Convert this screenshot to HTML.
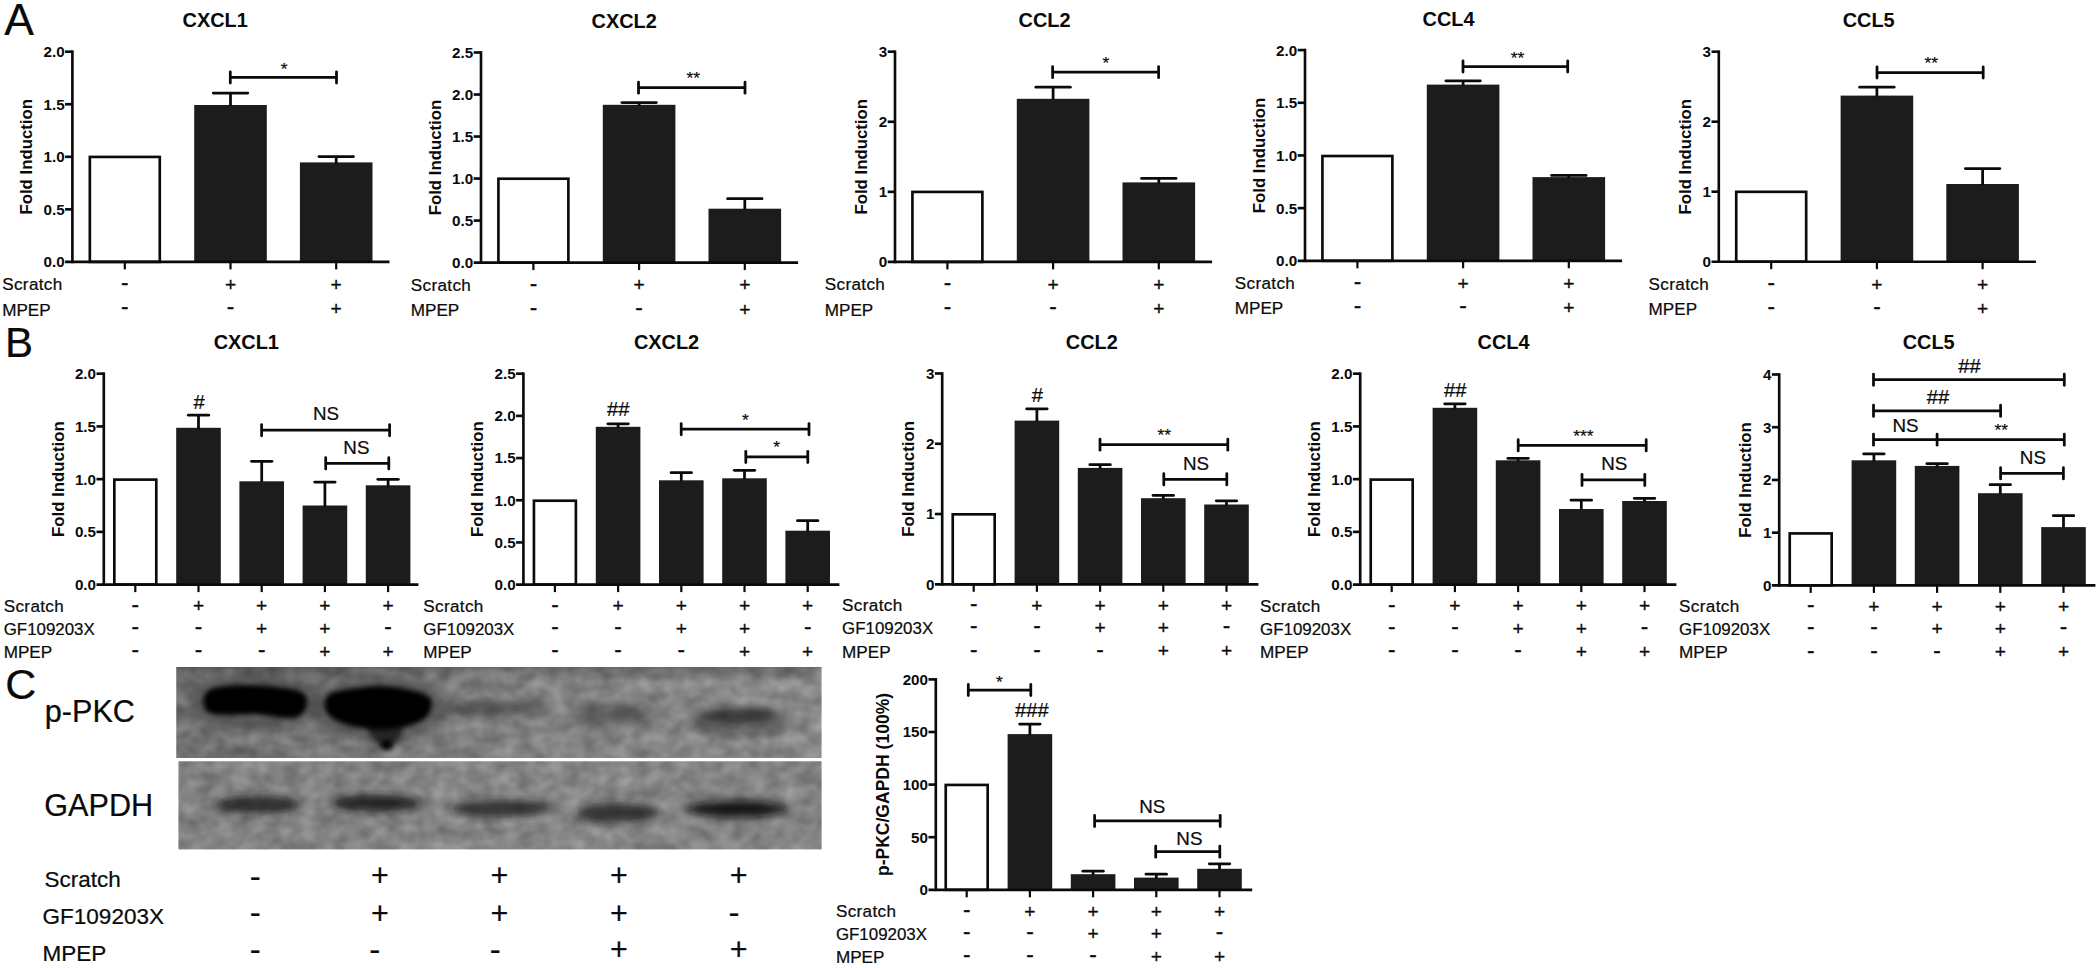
<!DOCTYPE html>
<html lang="en"><head><meta charset="utf-8"><title>Figure</title>
<style>html,body{margin:0;padding:0;background:#fff}body{width:2100px;height:968px;overflow:hidden}svg{display:block}text{font-family:"Liberation Sans",sans-serif;fill:#0a0a0a}</style>
</head><body>
<svg width="2100" height="968" viewBox="0 0 2100 968">
<rect width="2100" height="968" fill="#fff"/>
<defs>
<filter id="b1" x="-20%" y="-60%" width="140%" height="220%"><feGaussianBlur stdDeviation="2.6"/></filter>
<filter id="b2" x="-20%" y="-80%" width="140%" height="260%"><feGaussianBlur stdDeviation="4.3"/></filter>
<filter id="b3" x="-20%" y="-80%" width="140%" height="260%"><feGaussianBlur stdDeviation="5"/></filter>
<linearGradient id="g1" x1="0" x2="1" y1="0" y2="0"><stop offset="0" stop-color="#6e6e6e"/><stop offset="0.4" stop-color="#808080"/><stop offset="1" stop-color="#8e8e8e"/></linearGradient>
<linearGradient id="g2" x1="0" x2="1" y1="0" y2="0"><stop offset="0" stop-color="#828282"/><stop offset="0.6" stop-color="#8a8a8a"/><stop offset="1" stop-color="#868686"/></linearGradient>
<linearGradient id="gt" x1="0" x2="0" y1="0" y2="1"><stop offset="0" stop-color="#000" stop-opacity="0.28"/><stop offset="0.16" stop-color="#000" stop-opacity="0"/><stop offset="1" stop-color="#000" stop-opacity="0"/></linearGradient>
<filter id="nz" x="0" y="0" width="100%" height="100%" color-interpolation-filters="sRGB"><feTurbulence type="fractalNoise" baseFrequency="0.06 0.075" numOctaves="2" seed="11"/><feColorMatrix type="matrix" values="1.3 0 0 0 -0.16  1.3 0 0 0 -0.16  1.3 0 0 0 -0.16  0 0 0 0 0.21"/><feGaussianBlur stdDeviation="1.0"/></filter>
<clipPath id="c1"><rect x="176.3" y="667" width="645.2" height="91"/></clipPath>
<clipPath id="c2"><rect x="178.5" y="761.3" width="643" height="88"/></clipPath>
</defs>
<text x="4.3" y="35" font-size="44.5" text-anchor="start" stroke="#0a0a0a" stroke-width="0.22">A</text>
<text x="5" y="357" font-size="42" text-anchor="start" stroke="#0a0a0a" stroke-width="0.22">B</text>
<text x="5.3" y="699" font-size="43" text-anchor="start" stroke="#0a0a0a" stroke-width="0.22">C</text>
<rect x="89.83" y="156.92" width="69.95" height="104.97" fill="#fff" stroke="#0a0a0a" stroke-width="2.65"/>
<rect x="194.2" y="105" width="72.6" height="156.9" fill="#1c1c1c"/>
<line x1="230.5" y1="93" x2="230.5" y2="106" stroke="#0a0a0a" stroke-width="2.75" stroke-linecap="butt"/>
<line x1="213.25" y1="93" x2="247.75" y2="93" stroke="#0a0a0a" stroke-width="2.75" stroke-linecap="round"/>
<rect x="299.9" y="162.4" width="72.6" height="99.5" fill="#1c1c1c"/>
<line x1="336.2" y1="156.6" x2="336.2" y2="163.4" stroke="#0a0a0a" stroke-width="2.75" stroke-linecap="butt"/>
<line x1="318.95" y1="156.6" x2="353.45" y2="156.6" stroke="#0a0a0a" stroke-width="2.75" stroke-linecap="round"/>
<line x1="72.4" y1="50.38" x2="72.4" y2="263.22" stroke="#0a0a0a" stroke-width="2.65" stroke-linecap="butt"/>
<line x1="65.1" y1="261.9" x2="389.5" y2="261.9" stroke="#0a0a0a" stroke-width="2.65" stroke-linecap="butt"/>
<text x="64.6" y="267.3" font-size="15.2" font-weight="bold" text-anchor="end">0.0</text>
<line x1="65.1" y1="209.35" x2="72.4" y2="209.35" stroke="#0a0a0a" stroke-width="2.65" stroke-linecap="butt"/>
<text x="64.6" y="214.75" font-size="15.2" font-weight="bold" text-anchor="end">0.5</text>
<line x1="65.1" y1="156.8" x2="72.4" y2="156.8" stroke="#0a0a0a" stroke-width="2.65" stroke-linecap="butt"/>
<text x="64.6" y="162.2" font-size="15.2" font-weight="bold" text-anchor="end">1.0</text>
<line x1="65.1" y1="104.25" x2="72.4" y2="104.25" stroke="#0a0a0a" stroke-width="2.65" stroke-linecap="butt"/>
<text x="64.6" y="109.65" font-size="15.2" font-weight="bold" text-anchor="end">1.5</text>
<line x1="65.1" y1="51.7" x2="72.4" y2="51.7" stroke="#0a0a0a" stroke-width="2.65" stroke-linecap="butt"/>
<text x="64.6" y="57.1" font-size="15.2" font-weight="bold" text-anchor="end">2.0</text>
<line x1="124.8" y1="261.9" x2="124.8" y2="269.4" stroke="#0a0a0a" stroke-width="2.2" stroke-linecap="butt"/>
<line x1="230.5" y1="261.9" x2="230.5" y2="269.4" stroke="#0a0a0a" stroke-width="2.2" stroke-linecap="butt"/>
<line x1="336.2" y1="261.9" x2="336.2" y2="269.4" stroke="#0a0a0a" stroke-width="2.2" stroke-linecap="butt"/>
<text transform="translate(32.3 156.8) rotate(-90)" font-size="16.8" font-weight="bold" text-anchor="middle">Fold Induction</text>
<text x="215.2" y="27" font-size="19.9" font-weight="bold" text-anchor="middle">CXCL1</text>
<line x1="230.3" y1="77.4" x2="336.5" y2="77.4" stroke="#0a0a0a" stroke-width="2.75" stroke-linecap="butt"/>
<line x1="230.3" y1="71.8" x2="230.3" y2="83" stroke="#0a0a0a" stroke-width="2.75" stroke-linecap="round"/>
<line x1="336.5" y1="71.8" x2="336.5" y2="83" stroke="#0a0a0a" stroke-width="2.75" stroke-linecap="round"/>
<text x="284.2" y="74.9" font-size="17.4" text-anchor="middle" stroke="#0a0a0a" stroke-width="0.22">*</text>
<text x="2.2" y="290" font-size="17.1" text-anchor="start" letter-spacing="0.35" stroke="#0a0a0a" stroke-width="0.22">Scratch</text>
<text x="2.2" y="315.5" font-size="17.1" text-anchor="start" stroke="#0a0a0a" stroke-width="0.22">MPEP</text>
<text x="124.8" y="289.95" font-size="22.5" text-anchor="middle" stroke="#0a0a0a" stroke-width="0.3">-</text>
<text x="230.5" y="290.79" font-size="19.2" text-anchor="middle" stroke="#0a0a0a" stroke-width="0.3">+</text>
<text x="336.2" y="290.79" font-size="19.2" text-anchor="middle" stroke="#0a0a0a" stroke-width="0.3">+</text>
<text x="124.8" y="314.15" font-size="22.5" text-anchor="middle" stroke="#0a0a0a" stroke-width="0.3">-</text>
<text x="230.5" y="314.15" font-size="22.5" text-anchor="middle" stroke="#0a0a0a" stroke-width="0.3">-</text>
<text x="336.2" y="314.99" font-size="19.2" text-anchor="middle" stroke="#0a0a0a" stroke-width="0.3">+</text>
<rect x="498.42" y="178.72" width="69.95" height="83.88" fill="#fff" stroke="#0a0a0a" stroke-width="2.65"/>
<rect x="602.8" y="104.8" width="72.6" height="157.8" fill="#1c1c1c"/>
<line x1="639.1" y1="102.6" x2="639.1" y2="105.8" stroke="#0a0a0a" stroke-width="2.75" stroke-linecap="butt"/>
<line x1="621.85" y1="102.6" x2="656.35" y2="102.6" stroke="#0a0a0a" stroke-width="2.75" stroke-linecap="round"/>
<rect x="708.5" y="208.7" width="72.6" height="53.9" fill="#1c1c1c"/>
<line x1="744.8" y1="198.7" x2="744.8" y2="209.7" stroke="#0a0a0a" stroke-width="2.75" stroke-linecap="butt"/>
<line x1="727.55" y1="198.7" x2="762.05" y2="198.7" stroke="#0a0a0a" stroke-width="2.75" stroke-linecap="round"/>
<line x1="481" y1="51.17" x2="481" y2="263.93" stroke="#0a0a0a" stroke-width="2.65" stroke-linecap="butt"/>
<line x1="473.7" y1="262.6" x2="798.1" y2="262.6" stroke="#0a0a0a" stroke-width="2.65" stroke-linecap="butt"/>
<text x="473.2" y="268" font-size="15.2" font-weight="bold" text-anchor="end">0.0</text>
<line x1="473.7" y1="220.58" x2="481" y2="220.58" stroke="#0a0a0a" stroke-width="2.65" stroke-linecap="butt"/>
<text x="473.2" y="225.98" font-size="15.2" font-weight="bold" text-anchor="end">0.5</text>
<line x1="473.7" y1="178.56" x2="481" y2="178.56" stroke="#0a0a0a" stroke-width="2.65" stroke-linecap="butt"/>
<text x="473.2" y="183.96" font-size="15.2" font-weight="bold" text-anchor="end">1.0</text>
<line x1="473.7" y1="136.54" x2="481" y2="136.54" stroke="#0a0a0a" stroke-width="2.65" stroke-linecap="butt"/>
<text x="473.2" y="141.94" font-size="15.2" font-weight="bold" text-anchor="end">1.5</text>
<line x1="473.7" y1="94.52" x2="481" y2="94.52" stroke="#0a0a0a" stroke-width="2.65" stroke-linecap="butt"/>
<text x="473.2" y="99.92" font-size="15.2" font-weight="bold" text-anchor="end">2.0</text>
<line x1="473.7" y1="52.5" x2="481" y2="52.5" stroke="#0a0a0a" stroke-width="2.65" stroke-linecap="butt"/>
<text x="473.2" y="57.9" font-size="15.2" font-weight="bold" text-anchor="end">2.5</text>
<line x1="533.4" y1="262.6" x2="533.4" y2="270.1" stroke="#0a0a0a" stroke-width="2.2" stroke-linecap="butt"/>
<line x1="639.1" y1="262.6" x2="639.1" y2="270.1" stroke="#0a0a0a" stroke-width="2.2" stroke-linecap="butt"/>
<line x1="744.8" y1="262.6" x2="744.8" y2="270.1" stroke="#0a0a0a" stroke-width="2.2" stroke-linecap="butt"/>
<text transform="translate(440.9 157.55) rotate(-90)" font-size="16.8" font-weight="bold" text-anchor="middle">Fold Induction</text>
<text x="624.2" y="27.6" font-size="19.9" font-weight="bold" text-anchor="middle">CXCL2</text>
<line x1="638.5" y1="87.6" x2="745" y2="87.6" stroke="#0a0a0a" stroke-width="2.75" stroke-linecap="butt"/>
<line x1="638.5" y1="82" x2="638.5" y2="93.2" stroke="#0a0a0a" stroke-width="2.75" stroke-linecap="round"/>
<line x1="745" y1="82" x2="745" y2="93.2" stroke="#0a0a0a" stroke-width="2.75" stroke-linecap="round"/>
<text x="693.2" y="83.9" font-size="17.4" text-anchor="middle" stroke="#0a0a0a" stroke-width="0.22">**</text>
<text x="410.8" y="290.7" font-size="17.1" text-anchor="start" letter-spacing="0.35" stroke="#0a0a0a" stroke-width="0.22">Scratch</text>
<text x="410.8" y="316.2" font-size="17.1" text-anchor="start" stroke="#0a0a0a" stroke-width="0.22">MPEP</text>
<text x="533.4" y="290.65" font-size="22.5" text-anchor="middle" stroke="#0a0a0a" stroke-width="0.3">-</text>
<text x="639.1" y="291.49" font-size="19.2" text-anchor="middle" stroke="#0a0a0a" stroke-width="0.3">+</text>
<text x="744.8" y="291.49" font-size="19.2" text-anchor="middle" stroke="#0a0a0a" stroke-width="0.3">+</text>
<text x="533.4" y="314.85" font-size="22.5" text-anchor="middle" stroke="#0a0a0a" stroke-width="0.3">-</text>
<text x="639.1" y="314.85" font-size="22.5" text-anchor="middle" stroke="#0a0a0a" stroke-width="0.3">-</text>
<text x="744.8" y="315.69" font-size="19.2" text-anchor="middle" stroke="#0a0a0a" stroke-width="0.3">+</text>
<rect x="912.43" y="191.92" width="69.95" height="69.97" fill="#fff" stroke="#0a0a0a" stroke-width="2.65"/>
<rect x="1016.8" y="98.8" width="72.6" height="163.1" fill="#1c1c1c"/>
<line x1="1053.1" y1="87.2" x2="1053.1" y2="99.8" stroke="#0a0a0a" stroke-width="2.75" stroke-linecap="butt"/>
<line x1="1035.85" y1="87.2" x2="1070.35" y2="87.2" stroke="#0a0a0a" stroke-width="2.75" stroke-linecap="round"/>
<rect x="1122.5" y="182.4" width="72.6" height="79.5" fill="#1c1c1c"/>
<line x1="1158.8" y1="178.4" x2="1158.8" y2="183.4" stroke="#0a0a0a" stroke-width="2.75" stroke-linecap="butt"/>
<line x1="1141.55" y1="178.4" x2="1176.05" y2="178.4" stroke="#0a0a0a" stroke-width="2.75" stroke-linecap="round"/>
<line x1="895" y1="50.38" x2="895" y2="263.22" stroke="#0a0a0a" stroke-width="2.65" stroke-linecap="butt"/>
<line x1="887.7" y1="261.9" x2="1212.1" y2="261.9" stroke="#0a0a0a" stroke-width="2.65" stroke-linecap="butt"/>
<text x="887.2" y="267.3" font-size="15.2" font-weight="bold" text-anchor="end">0</text>
<line x1="887.7" y1="191.83" x2="895" y2="191.83" stroke="#0a0a0a" stroke-width="2.65" stroke-linecap="butt"/>
<text x="887.2" y="197.23" font-size="15.2" font-weight="bold" text-anchor="end">1</text>
<line x1="887.7" y1="121.77" x2="895" y2="121.77" stroke="#0a0a0a" stroke-width="2.65" stroke-linecap="butt"/>
<text x="887.2" y="127.17" font-size="15.2" font-weight="bold" text-anchor="end">2</text>
<line x1="887.7" y1="51.7" x2="895" y2="51.7" stroke="#0a0a0a" stroke-width="2.65" stroke-linecap="butt"/>
<text x="887.2" y="57.1" font-size="15.2" font-weight="bold" text-anchor="end">3</text>
<line x1="947.4" y1="261.9" x2="947.4" y2="269.4" stroke="#0a0a0a" stroke-width="2.2" stroke-linecap="butt"/>
<line x1="1053.1" y1="261.9" x2="1053.1" y2="269.4" stroke="#0a0a0a" stroke-width="2.2" stroke-linecap="butt"/>
<line x1="1158.8" y1="261.9" x2="1158.8" y2="269.4" stroke="#0a0a0a" stroke-width="2.2" stroke-linecap="butt"/>
<text transform="translate(867 156.8) rotate(-90)" font-size="16.8" font-weight="bold" text-anchor="middle">Fold Induction</text>
<text x="1044.5" y="27.2" font-size="19.9" font-weight="bold" text-anchor="middle">CCL2</text>
<line x1="1052.6" y1="72.1" x2="1158.6" y2="72.1" stroke="#0a0a0a" stroke-width="2.75" stroke-linecap="butt"/>
<line x1="1052.6" y1="66.5" x2="1052.6" y2="77.7" stroke="#0a0a0a" stroke-width="2.75" stroke-linecap="round"/>
<line x1="1158.6" y1="66.5" x2="1158.6" y2="77.7" stroke="#0a0a0a" stroke-width="2.75" stroke-linecap="round"/>
<text x="1106" y="69.4" font-size="17.4" text-anchor="middle" stroke="#0a0a0a" stroke-width="0.22">*</text>
<text x="824.8" y="290" font-size="17.1" text-anchor="start" letter-spacing="0.35" stroke="#0a0a0a" stroke-width="0.22">Scratch</text>
<text x="824.8" y="315.5" font-size="17.1" text-anchor="start" stroke="#0a0a0a" stroke-width="0.22">MPEP</text>
<text x="947.4" y="289.95" font-size="22.5" text-anchor="middle" stroke="#0a0a0a" stroke-width="0.3">-</text>
<text x="1053.1" y="290.79" font-size="19.2" text-anchor="middle" stroke="#0a0a0a" stroke-width="0.3">+</text>
<text x="1158.8" y="290.79" font-size="19.2" text-anchor="middle" stroke="#0a0a0a" stroke-width="0.3">+</text>
<text x="947.4" y="314.15" font-size="22.5" text-anchor="middle" stroke="#0a0a0a" stroke-width="0.3">-</text>
<text x="1053.1" y="314.15" font-size="22.5" text-anchor="middle" stroke="#0a0a0a" stroke-width="0.3">-</text>
<text x="1158.8" y="314.99" font-size="19.2" text-anchor="middle" stroke="#0a0a0a" stroke-width="0.3">+</text>
<rect x="1322.43" y="156.02" width="69.95" height="104.78" fill="#fff" stroke="#0a0a0a" stroke-width="2.65"/>
<rect x="1426.8" y="84.6" width="72.6" height="176.2" fill="#1c1c1c"/>
<line x1="1463.1" y1="80.8" x2="1463.1" y2="85.6" stroke="#0a0a0a" stroke-width="2.75" stroke-linecap="butt"/>
<line x1="1445.85" y1="80.8" x2="1480.35" y2="80.8" stroke="#0a0a0a" stroke-width="2.75" stroke-linecap="round"/>
<rect x="1532.5" y="177.1" width="72.6" height="83.7" fill="#1c1c1c"/>
<line x1="1568.8" y1="175.4" x2="1568.8" y2="178.1" stroke="#0a0a0a" stroke-width="2.75" stroke-linecap="butt"/>
<line x1="1551.55" y1="175.4" x2="1586.05" y2="175.4" stroke="#0a0a0a" stroke-width="2.75" stroke-linecap="round"/>
<line x1="1305" y1="48.77" x2="1305" y2="262.12" stroke="#0a0a0a" stroke-width="2.65" stroke-linecap="butt"/>
<line x1="1297.7" y1="260.8" x2="1622.1" y2="260.8" stroke="#0a0a0a" stroke-width="2.65" stroke-linecap="butt"/>
<text x="1297.2" y="266.2" font-size="15.2" font-weight="bold" text-anchor="end">0.0</text>
<line x1="1297.7" y1="208.12" x2="1305" y2="208.12" stroke="#0a0a0a" stroke-width="2.65" stroke-linecap="butt"/>
<text x="1297.2" y="213.53" font-size="15.2" font-weight="bold" text-anchor="end">0.5</text>
<line x1="1297.7" y1="155.45" x2="1305" y2="155.45" stroke="#0a0a0a" stroke-width="2.65" stroke-linecap="butt"/>
<text x="1297.2" y="160.85" font-size="15.2" font-weight="bold" text-anchor="end">1.0</text>
<line x1="1297.7" y1="102.78" x2="1305" y2="102.78" stroke="#0a0a0a" stroke-width="2.65" stroke-linecap="butt"/>
<text x="1297.2" y="108.18" font-size="15.2" font-weight="bold" text-anchor="end">1.5</text>
<line x1="1297.7" y1="50.1" x2="1305" y2="50.1" stroke="#0a0a0a" stroke-width="2.65" stroke-linecap="butt"/>
<text x="1297.2" y="55.5" font-size="15.2" font-weight="bold" text-anchor="end">2.0</text>
<line x1="1357.4" y1="260.8" x2="1357.4" y2="268.3" stroke="#0a0a0a" stroke-width="2.2" stroke-linecap="butt"/>
<line x1="1463.1" y1="260.8" x2="1463.1" y2="268.3" stroke="#0a0a0a" stroke-width="2.2" stroke-linecap="butt"/>
<line x1="1568.8" y1="260.8" x2="1568.8" y2="268.3" stroke="#0a0a0a" stroke-width="2.2" stroke-linecap="butt"/>
<text transform="translate(1264.9 155.45) rotate(-90)" font-size="16.8" font-weight="bold" text-anchor="middle">Fold Induction</text>
<text x="1448.5" y="25.8" font-size="19.9" font-weight="bold" text-anchor="middle">CCL4</text>
<line x1="1463" y1="66.5" x2="1567.7" y2="66.5" stroke="#0a0a0a" stroke-width="2.75" stroke-linecap="butt"/>
<line x1="1463" y1="60.9" x2="1463" y2="72.1" stroke="#0a0a0a" stroke-width="2.75" stroke-linecap="round"/>
<line x1="1567.7" y1="60.9" x2="1567.7" y2="72.1" stroke="#0a0a0a" stroke-width="2.75" stroke-linecap="round"/>
<text x="1517.6" y="63.9" font-size="17.4" text-anchor="middle" stroke="#0a0a0a" stroke-width="0.22">**</text>
<text x="1234.8" y="288.9" font-size="17.1" text-anchor="start" letter-spacing="0.35" stroke="#0a0a0a" stroke-width="0.22">Scratch</text>
<text x="1234.8" y="314.4" font-size="17.1" text-anchor="start" stroke="#0a0a0a" stroke-width="0.22">MPEP</text>
<text x="1357.4" y="288.85" font-size="22.5" text-anchor="middle" stroke="#0a0a0a" stroke-width="0.3">-</text>
<text x="1463.1" y="289.69" font-size="19.2" text-anchor="middle" stroke="#0a0a0a" stroke-width="0.3">+</text>
<text x="1568.8" y="289.69" font-size="19.2" text-anchor="middle" stroke="#0a0a0a" stroke-width="0.3">+</text>
<text x="1357.4" y="313.05" font-size="22.5" text-anchor="middle" stroke="#0a0a0a" stroke-width="0.3">-</text>
<text x="1463.1" y="313.05" font-size="22.5" text-anchor="middle" stroke="#0a0a0a" stroke-width="0.3">-</text>
<text x="1568.8" y="313.89" font-size="19.2" text-anchor="middle" stroke="#0a0a0a" stroke-width="0.3">+</text>
<rect x="1736.23" y="191.82" width="69.95" height="69.87" fill="#fff" stroke="#0a0a0a" stroke-width="2.65"/>
<rect x="1840.6" y="95.6" width="72.6" height="166.1" fill="#1c1c1c"/>
<line x1="1876.9" y1="87.2" x2="1876.9" y2="96.6" stroke="#0a0a0a" stroke-width="2.75" stroke-linecap="butt"/>
<line x1="1859.65" y1="87.2" x2="1894.15" y2="87.2" stroke="#0a0a0a" stroke-width="2.75" stroke-linecap="round"/>
<rect x="1946.3" y="184" width="72.6" height="77.7" fill="#1c1c1c"/>
<line x1="1982.6" y1="168.5" x2="1982.6" y2="185" stroke="#0a0a0a" stroke-width="2.75" stroke-linecap="butt"/>
<line x1="1965.35" y1="168.5" x2="1999.85" y2="168.5" stroke="#0a0a0a" stroke-width="2.75" stroke-linecap="round"/>
<line x1="1718.8" y1="50.38" x2="1718.8" y2="263.02" stroke="#0a0a0a" stroke-width="2.65" stroke-linecap="butt"/>
<line x1="1711.5" y1="261.7" x2="2035.9" y2="261.7" stroke="#0a0a0a" stroke-width="2.65" stroke-linecap="butt"/>
<text x="1711" y="267.1" font-size="15.2" font-weight="bold" text-anchor="end">0</text>
<line x1="1711.5" y1="191.7" x2="1718.8" y2="191.7" stroke="#0a0a0a" stroke-width="2.65" stroke-linecap="butt"/>
<text x="1711" y="197.1" font-size="15.2" font-weight="bold" text-anchor="end">1</text>
<line x1="1711.5" y1="121.7" x2="1718.8" y2="121.7" stroke="#0a0a0a" stroke-width="2.65" stroke-linecap="butt"/>
<text x="1711" y="127.1" font-size="15.2" font-weight="bold" text-anchor="end">2</text>
<line x1="1711.5" y1="51.7" x2="1718.8" y2="51.7" stroke="#0a0a0a" stroke-width="2.65" stroke-linecap="butt"/>
<text x="1711" y="57.1" font-size="15.2" font-weight="bold" text-anchor="end">3</text>
<line x1="1771.2" y1="261.7" x2="1771.2" y2="269.2" stroke="#0a0a0a" stroke-width="2.2" stroke-linecap="butt"/>
<line x1="1876.9" y1="261.7" x2="1876.9" y2="269.2" stroke="#0a0a0a" stroke-width="2.2" stroke-linecap="butt"/>
<line x1="1982.6" y1="261.7" x2="1982.6" y2="269.2" stroke="#0a0a0a" stroke-width="2.2" stroke-linecap="butt"/>
<text transform="translate(1690.8 156.7) rotate(-90)" font-size="16.8" font-weight="bold" text-anchor="middle">Fold Induction</text>
<text x="1868.7" y="26.8" font-size="19.9" font-weight="bold" text-anchor="middle">CCL5</text>
<line x1="1877" y1="72.5" x2="1983.2" y2="72.5" stroke="#0a0a0a" stroke-width="2.75" stroke-linecap="butt"/>
<line x1="1877" y1="66.9" x2="1877" y2="78.1" stroke="#0a0a0a" stroke-width="2.75" stroke-linecap="round"/>
<line x1="1983.2" y1="66.9" x2="1983.2" y2="78.1" stroke="#0a0a0a" stroke-width="2.75" stroke-linecap="round"/>
<text x="1931.2" y="69.2" font-size="17.4" text-anchor="middle" stroke="#0a0a0a" stroke-width="0.22">**</text>
<text x="1648.6" y="289.8" font-size="17.1" text-anchor="start" letter-spacing="0.35" stroke="#0a0a0a" stroke-width="0.22">Scratch</text>
<text x="1648.6" y="315.3" font-size="17.1" text-anchor="start" stroke="#0a0a0a" stroke-width="0.22">MPEP</text>
<text x="1771.2" y="289.75" font-size="22.5" text-anchor="middle" stroke="#0a0a0a" stroke-width="0.3">-</text>
<text x="1876.9" y="290.59" font-size="19.2" text-anchor="middle" stroke="#0a0a0a" stroke-width="0.3">+</text>
<text x="1982.6" y="290.59" font-size="19.2" text-anchor="middle" stroke="#0a0a0a" stroke-width="0.3">+</text>
<text x="1771.2" y="313.95" font-size="22.5" text-anchor="middle" stroke="#0a0a0a" stroke-width="0.3">-</text>
<text x="1876.9" y="313.95" font-size="22.5" text-anchor="middle" stroke="#0a0a0a" stroke-width="0.3">-</text>
<text x="1982.6" y="314.79" font-size="19.2" text-anchor="middle" stroke="#0a0a0a" stroke-width="0.3">+</text>
<rect x="114.33" y="479.62" width="41.95" height="104.98" fill="#fff" stroke="#0a0a0a" stroke-width="2.65"/>
<rect x="176.2" y="427.8" width="44.6" height="156.8" fill="#1c1c1c"/>
<line x1="198.5" y1="415.2" x2="198.5" y2="428.8" stroke="#0a0a0a" stroke-width="2.75" stroke-linecap="butt"/>
<line x1="188.25" y1="415.2" x2="208.75" y2="415.2" stroke="#0a0a0a" stroke-width="2.75" stroke-linecap="round"/>
<rect x="239.4" y="481.3" width="44.6" height="103.3" fill="#1c1c1c"/>
<line x1="261.7" y1="461.3" x2="261.7" y2="482.3" stroke="#0a0a0a" stroke-width="2.75" stroke-linecap="butt"/>
<line x1="251.45" y1="461.3" x2="271.95" y2="461.3" stroke="#0a0a0a" stroke-width="2.75" stroke-linecap="round"/>
<rect x="302.6" y="505.5" width="44.6" height="79.1" fill="#1c1c1c"/>
<line x1="324.9" y1="482" x2="324.9" y2="506.5" stroke="#0a0a0a" stroke-width="2.75" stroke-linecap="butt"/>
<line x1="314.65" y1="482" x2="335.15" y2="482" stroke="#0a0a0a" stroke-width="2.75" stroke-linecap="round"/>
<rect x="365.8" y="485.3" width="44.6" height="99.3" fill="#1c1c1c"/>
<line x1="388.1" y1="479.3" x2="388.1" y2="486.3" stroke="#0a0a0a" stroke-width="2.75" stroke-linecap="butt"/>
<line x1="377.85" y1="479.3" x2="398.35" y2="479.3" stroke="#0a0a0a" stroke-width="2.75" stroke-linecap="round"/>
<line x1="103.8" y1="372.38" x2="103.8" y2="585.93" stroke="#0a0a0a" stroke-width="2.65" stroke-linecap="butt"/>
<line x1="96.5" y1="584.6" x2="418.4" y2="584.6" stroke="#0a0a0a" stroke-width="2.65" stroke-linecap="butt"/>
<text x="96" y="590" font-size="15.2" font-weight="bold" text-anchor="end">0.0</text>
<line x1="96.5" y1="531.88" x2="103.8" y2="531.88" stroke="#0a0a0a" stroke-width="2.65" stroke-linecap="butt"/>
<text x="96" y="537.27" font-size="15.2" font-weight="bold" text-anchor="end">0.5</text>
<line x1="96.5" y1="479.15" x2="103.8" y2="479.15" stroke="#0a0a0a" stroke-width="2.65" stroke-linecap="butt"/>
<text x="96" y="484.55" font-size="15.2" font-weight="bold" text-anchor="end">1.0</text>
<line x1="96.5" y1="426.43" x2="103.8" y2="426.43" stroke="#0a0a0a" stroke-width="2.65" stroke-linecap="butt"/>
<text x="96" y="431.82" font-size="15.2" font-weight="bold" text-anchor="end">1.5</text>
<line x1="96.5" y1="373.7" x2="103.8" y2="373.7" stroke="#0a0a0a" stroke-width="2.65" stroke-linecap="butt"/>
<text x="96" y="379.1" font-size="15.2" font-weight="bold" text-anchor="end">2.0</text>
<line x1="135.3" y1="584.6" x2="135.3" y2="592.1" stroke="#0a0a0a" stroke-width="2.2" stroke-linecap="butt"/>
<line x1="198.5" y1="584.6" x2="198.5" y2="592.1" stroke="#0a0a0a" stroke-width="2.2" stroke-linecap="butt"/>
<line x1="261.7" y1="584.6" x2="261.7" y2="592.1" stroke="#0a0a0a" stroke-width="2.2" stroke-linecap="butt"/>
<line x1="324.9" y1="584.6" x2="324.9" y2="592.1" stroke="#0a0a0a" stroke-width="2.2" stroke-linecap="butt"/>
<line x1="388.1" y1="584.6" x2="388.1" y2="592.1" stroke="#0a0a0a" stroke-width="2.2" stroke-linecap="butt"/>
<text transform="translate(63.7 479.15) rotate(-90)" font-size="16.8" font-weight="bold" text-anchor="middle">Fold Induction</text>
<text x="246.3" y="348.8" font-size="19.9" font-weight="bold" text-anchor="middle">CXCL1</text>
<text x="199" y="409" font-size="20.2" text-anchor="middle" stroke="#0a0a0a" stroke-width="0.22">#</text>
<line x1="261.6" y1="430.2" x2="389.6" y2="430.2" stroke="#0a0a0a" stroke-width="2.75" stroke-linecap="butt"/>
<line x1="261.6" y1="424.6" x2="261.6" y2="435.8" stroke="#0a0a0a" stroke-width="2.75" stroke-linecap="round"/>
<line x1="389.6" y1="424.6" x2="389.6" y2="435.8" stroke="#0a0a0a" stroke-width="2.75" stroke-linecap="round"/>
<text x="326" y="420.2" font-size="18.8" text-anchor="middle" stroke="#0a0a0a" stroke-width="0.22">NS</text>
<line x1="325.7" y1="463.3" x2="388.8" y2="463.3" stroke="#0a0a0a" stroke-width="2.75" stroke-linecap="butt"/>
<line x1="325.7" y1="457.7" x2="325.7" y2="468.9" stroke="#0a0a0a" stroke-width="2.75" stroke-linecap="round"/>
<line x1="388.8" y1="457.7" x2="388.8" y2="468.9" stroke="#0a0a0a" stroke-width="2.75" stroke-linecap="round"/>
<text x="356.4" y="453.9" font-size="18.8" text-anchor="middle" stroke="#0a0a0a" stroke-width="0.22">NS</text>
<rect x="533.93" y="500.72" width="41.95" height="83.88" fill="#fff" stroke="#0a0a0a" stroke-width="2.65"/>
<rect x="595.8" y="426.8" width="44.6" height="157.8" fill="#1c1c1c"/>
<line x1="618.1" y1="423.8" x2="618.1" y2="427.8" stroke="#0a0a0a" stroke-width="2.75" stroke-linecap="butt"/>
<line x1="607.85" y1="423.8" x2="628.35" y2="423.8" stroke="#0a0a0a" stroke-width="2.75" stroke-linecap="round"/>
<rect x="659" y="480.3" width="44.6" height="104.3" fill="#1c1c1c"/>
<line x1="681.3" y1="472.7" x2="681.3" y2="481.3" stroke="#0a0a0a" stroke-width="2.75" stroke-linecap="butt"/>
<line x1="671.05" y1="472.7" x2="691.55" y2="472.7" stroke="#0a0a0a" stroke-width="2.75" stroke-linecap="round"/>
<rect x="722.2" y="478.3" width="44.6" height="106.3" fill="#1c1c1c"/>
<line x1="744.5" y1="470.3" x2="744.5" y2="479.3" stroke="#0a0a0a" stroke-width="2.75" stroke-linecap="butt"/>
<line x1="734.25" y1="470.3" x2="754.75" y2="470.3" stroke="#0a0a0a" stroke-width="2.75" stroke-linecap="round"/>
<rect x="785.4" y="530.7" width="44.6" height="53.9" fill="#1c1c1c"/>
<line x1="807.7" y1="520.7" x2="807.7" y2="531.7" stroke="#0a0a0a" stroke-width="2.75" stroke-linecap="butt"/>
<line x1="797.45" y1="520.7" x2="817.95" y2="520.7" stroke="#0a0a0a" stroke-width="2.75" stroke-linecap="round"/>
<line x1="523.4" y1="372.38" x2="523.4" y2="585.93" stroke="#0a0a0a" stroke-width="2.65" stroke-linecap="butt"/>
<line x1="516.1" y1="584.6" x2="839.4" y2="584.6" stroke="#0a0a0a" stroke-width="2.65" stroke-linecap="butt"/>
<text x="515.6" y="590" font-size="15.2" font-weight="bold" text-anchor="end">0.0</text>
<line x1="516.1" y1="542.42" x2="523.4" y2="542.42" stroke="#0a0a0a" stroke-width="2.65" stroke-linecap="butt"/>
<text x="515.6" y="547.82" font-size="15.2" font-weight="bold" text-anchor="end">0.5</text>
<line x1="516.1" y1="500.24" x2="523.4" y2="500.24" stroke="#0a0a0a" stroke-width="2.65" stroke-linecap="butt"/>
<text x="515.6" y="505.64" font-size="15.2" font-weight="bold" text-anchor="end">1.0</text>
<line x1="516.1" y1="458.06" x2="523.4" y2="458.06" stroke="#0a0a0a" stroke-width="2.65" stroke-linecap="butt"/>
<text x="515.6" y="463.46" font-size="15.2" font-weight="bold" text-anchor="end">1.5</text>
<line x1="516.1" y1="415.88" x2="523.4" y2="415.88" stroke="#0a0a0a" stroke-width="2.65" stroke-linecap="butt"/>
<text x="515.6" y="421.28" font-size="15.2" font-weight="bold" text-anchor="end">2.0</text>
<line x1="516.1" y1="373.7" x2="523.4" y2="373.7" stroke="#0a0a0a" stroke-width="2.65" stroke-linecap="butt"/>
<text x="515.6" y="379.1" font-size="15.2" font-weight="bold" text-anchor="end">2.5</text>
<line x1="554.9" y1="584.6" x2="554.9" y2="592.1" stroke="#0a0a0a" stroke-width="2.2" stroke-linecap="butt"/>
<line x1="618.1" y1="584.6" x2="618.1" y2="592.1" stroke="#0a0a0a" stroke-width="2.2" stroke-linecap="butt"/>
<line x1="681.3" y1="584.6" x2="681.3" y2="592.1" stroke="#0a0a0a" stroke-width="2.2" stroke-linecap="butt"/>
<line x1="744.5" y1="584.6" x2="744.5" y2="592.1" stroke="#0a0a0a" stroke-width="2.2" stroke-linecap="butt"/>
<line x1="807.7" y1="584.6" x2="807.7" y2="592.1" stroke="#0a0a0a" stroke-width="2.2" stroke-linecap="butt"/>
<text transform="translate(483.3 479.15) rotate(-90)" font-size="16.8" font-weight="bold" text-anchor="middle">Fold Induction</text>
<text x="666.5" y="348.8" font-size="19.9" font-weight="bold" text-anchor="middle">CXCL2</text>
<text x="618.2" y="416.2" font-size="20.2" text-anchor="middle" stroke="#0a0a0a" stroke-width="0.22">##</text>
<line x1="681.2" y1="429.2" x2="809" y2="429.2" stroke="#0a0a0a" stroke-width="2.75" stroke-linecap="butt"/>
<line x1="681.2" y1="423.6" x2="681.2" y2="434.8" stroke="#0a0a0a" stroke-width="2.75" stroke-linecap="round"/>
<line x1="809" y1="423.6" x2="809" y2="434.8" stroke="#0a0a0a" stroke-width="2.75" stroke-linecap="round"/>
<text x="745.3" y="425.9" font-size="17.4" text-anchor="middle" stroke="#0a0a0a" stroke-width="0.22">*</text>
<line x1="745.8" y1="456.9" x2="807.8" y2="456.9" stroke="#0a0a0a" stroke-width="2.75" stroke-linecap="butt"/>
<line x1="745.8" y1="451.3" x2="745.8" y2="462.5" stroke="#0a0a0a" stroke-width="2.75" stroke-linecap="round"/>
<line x1="807.8" y1="451.3" x2="807.8" y2="462.5" stroke="#0a0a0a" stroke-width="2.75" stroke-linecap="round"/>
<text x="776.7" y="453.4" font-size="17.4" text-anchor="middle" stroke="#0a0a0a" stroke-width="0.22">*</text>
<rect x="952.73" y="514.33" width="41.95" height="69.97" fill="#fff" stroke="#0a0a0a" stroke-width="2.65"/>
<rect x="1014.6" y="420.6" width="44.6" height="163.7" fill="#1c1c1c"/>
<line x1="1036.9" y1="408.8" x2="1036.9" y2="421.6" stroke="#0a0a0a" stroke-width="2.75" stroke-linecap="butt"/>
<line x1="1026.65" y1="408.8" x2="1047.15" y2="408.8" stroke="#0a0a0a" stroke-width="2.75" stroke-linecap="round"/>
<rect x="1077.8" y="467.9" width="44.6" height="116.4" fill="#1c1c1c"/>
<line x1="1100.1" y1="464.7" x2="1100.1" y2="468.9" stroke="#0a0a0a" stroke-width="2.75" stroke-linecap="butt"/>
<line x1="1089.85" y1="464.7" x2="1110.35" y2="464.7" stroke="#0a0a0a" stroke-width="2.75" stroke-linecap="round"/>
<rect x="1141" y="498.2" width="44.6" height="86.1" fill="#1c1c1c"/>
<line x1="1163.3" y1="495.4" x2="1163.3" y2="499.2" stroke="#0a0a0a" stroke-width="2.75" stroke-linecap="butt"/>
<line x1="1153.05" y1="495.4" x2="1173.55" y2="495.4" stroke="#0a0a0a" stroke-width="2.75" stroke-linecap="round"/>
<rect x="1204.2" y="504.5" width="44.6" height="79.8" fill="#1c1c1c"/>
<line x1="1226.5" y1="500.8" x2="1226.5" y2="505.5" stroke="#0a0a0a" stroke-width="2.75" stroke-linecap="butt"/>
<line x1="1216.25" y1="500.8" x2="1236.75" y2="500.8" stroke="#0a0a0a" stroke-width="2.75" stroke-linecap="round"/>
<line x1="942.2" y1="372.18" x2="942.2" y2="585.62" stroke="#0a0a0a" stroke-width="2.65" stroke-linecap="butt"/>
<line x1="934.9" y1="584.3" x2="1258.4" y2="584.3" stroke="#0a0a0a" stroke-width="2.65" stroke-linecap="butt"/>
<text x="934.4" y="589.7" font-size="15.2" font-weight="bold" text-anchor="end">0</text>
<line x1="934.9" y1="514.03" x2="942.2" y2="514.03" stroke="#0a0a0a" stroke-width="2.65" stroke-linecap="butt"/>
<text x="934.4" y="519.43" font-size="15.2" font-weight="bold" text-anchor="end">1</text>
<line x1="934.9" y1="443.77" x2="942.2" y2="443.77" stroke="#0a0a0a" stroke-width="2.65" stroke-linecap="butt"/>
<text x="934.4" y="449.17" font-size="15.2" font-weight="bold" text-anchor="end">2</text>
<line x1="934.9" y1="373.5" x2="942.2" y2="373.5" stroke="#0a0a0a" stroke-width="2.65" stroke-linecap="butt"/>
<text x="934.4" y="378.9" font-size="15.2" font-weight="bold" text-anchor="end">3</text>
<line x1="973.7" y1="584.3" x2="973.7" y2="591.8" stroke="#0a0a0a" stroke-width="2.2" stroke-linecap="butt"/>
<line x1="1036.9" y1="584.3" x2="1036.9" y2="591.8" stroke="#0a0a0a" stroke-width="2.2" stroke-linecap="butt"/>
<line x1="1100.1" y1="584.3" x2="1100.1" y2="591.8" stroke="#0a0a0a" stroke-width="2.2" stroke-linecap="butt"/>
<line x1="1163.3" y1="584.3" x2="1163.3" y2="591.8" stroke="#0a0a0a" stroke-width="2.2" stroke-linecap="butt"/>
<line x1="1226.5" y1="584.3" x2="1226.5" y2="591.8" stroke="#0a0a0a" stroke-width="2.2" stroke-linecap="butt"/>
<text transform="translate(914.2 478.9) rotate(-90)" font-size="16.8" font-weight="bold" text-anchor="middle">Fold Induction</text>
<text x="1091.8" y="348.8" font-size="19.9" font-weight="bold" text-anchor="middle">CCL2</text>
<text x="1037.4" y="401.8" font-size="20.2" text-anchor="middle" stroke="#0a0a0a" stroke-width="0.22">#</text>
<line x1="1100" y1="444.6" x2="1227.8" y2="444.6" stroke="#0a0a0a" stroke-width="2.75" stroke-linecap="butt"/>
<line x1="1100" y1="439" x2="1100" y2="450.2" stroke="#0a0a0a" stroke-width="2.75" stroke-linecap="round"/>
<line x1="1227.8" y1="439" x2="1227.8" y2="450.2" stroke="#0a0a0a" stroke-width="2.75" stroke-linecap="round"/>
<text x="1164.3" y="440.9" font-size="17.4" text-anchor="middle" stroke="#0a0a0a" stroke-width="0.22">**</text>
<line x1="1163.8" y1="479.3" x2="1226.8" y2="479.3" stroke="#0a0a0a" stroke-width="2.75" stroke-linecap="butt"/>
<line x1="1163.8" y1="473.7" x2="1163.8" y2="484.9" stroke="#0a0a0a" stroke-width="2.75" stroke-linecap="round"/>
<line x1="1226.8" y1="473.7" x2="1226.8" y2="484.9" stroke="#0a0a0a" stroke-width="2.75" stroke-linecap="round"/>
<text x="1196" y="470" font-size="18.8" text-anchor="middle" stroke="#0a0a0a" stroke-width="0.22">NS</text>
<rect x="1370.73" y="479.62" width="41.95" height="104.98" fill="#fff" stroke="#0a0a0a" stroke-width="2.65"/>
<rect x="1432.6" y="407.8" width="44.6" height="176.8" fill="#1c1c1c"/>
<line x1="1454.9" y1="403.8" x2="1454.9" y2="408.8" stroke="#0a0a0a" stroke-width="2.75" stroke-linecap="butt"/>
<line x1="1444.65" y1="403.8" x2="1465.15" y2="403.8" stroke="#0a0a0a" stroke-width="2.75" stroke-linecap="round"/>
<rect x="1495.8" y="460.3" width="44.6" height="124.3" fill="#1c1c1c"/>
<line x1="1518.1" y1="458.3" x2="1518.1" y2="461.3" stroke="#0a0a0a" stroke-width="2.75" stroke-linecap="butt"/>
<line x1="1507.85" y1="458.3" x2="1528.35" y2="458.3" stroke="#0a0a0a" stroke-width="2.75" stroke-linecap="round"/>
<rect x="1559" y="509" width="44.6" height="75.6" fill="#1c1c1c"/>
<line x1="1581.3" y1="500.2" x2="1581.3" y2="510" stroke="#0a0a0a" stroke-width="2.75" stroke-linecap="butt"/>
<line x1="1571.05" y1="500.2" x2="1591.55" y2="500.2" stroke="#0a0a0a" stroke-width="2.75" stroke-linecap="round"/>
<rect x="1622.2" y="501" width="44.6" height="83.6" fill="#1c1c1c"/>
<line x1="1644.5" y1="498.4" x2="1644.5" y2="502" stroke="#0a0a0a" stroke-width="2.75" stroke-linecap="butt"/>
<line x1="1634.25" y1="498.4" x2="1654.75" y2="498.4" stroke="#0a0a0a" stroke-width="2.75" stroke-linecap="round"/>
<line x1="1360.2" y1="372.38" x2="1360.2" y2="585.93" stroke="#0a0a0a" stroke-width="2.65" stroke-linecap="butt"/>
<line x1="1352.9" y1="584.6" x2="1676.4" y2="584.6" stroke="#0a0a0a" stroke-width="2.65" stroke-linecap="butt"/>
<text x="1352.4" y="590" font-size="15.2" font-weight="bold" text-anchor="end">0.0</text>
<line x1="1352.9" y1="531.88" x2="1360.2" y2="531.88" stroke="#0a0a0a" stroke-width="2.65" stroke-linecap="butt"/>
<text x="1352.4" y="537.27" font-size="15.2" font-weight="bold" text-anchor="end">0.5</text>
<line x1="1352.9" y1="479.15" x2="1360.2" y2="479.15" stroke="#0a0a0a" stroke-width="2.65" stroke-linecap="butt"/>
<text x="1352.4" y="484.55" font-size="15.2" font-weight="bold" text-anchor="end">1.0</text>
<line x1="1352.9" y1="426.43" x2="1360.2" y2="426.43" stroke="#0a0a0a" stroke-width="2.65" stroke-linecap="butt"/>
<text x="1352.4" y="431.82" font-size="15.2" font-weight="bold" text-anchor="end">1.5</text>
<line x1="1352.9" y1="373.7" x2="1360.2" y2="373.7" stroke="#0a0a0a" stroke-width="2.65" stroke-linecap="butt"/>
<text x="1352.4" y="379.1" font-size="15.2" font-weight="bold" text-anchor="end">2.0</text>
<line x1="1391.7" y1="584.6" x2="1391.7" y2="592.1" stroke="#0a0a0a" stroke-width="2.2" stroke-linecap="butt"/>
<line x1="1454.9" y1="584.6" x2="1454.9" y2="592.1" stroke="#0a0a0a" stroke-width="2.2" stroke-linecap="butt"/>
<line x1="1518.1" y1="584.6" x2="1518.1" y2="592.1" stroke="#0a0a0a" stroke-width="2.2" stroke-linecap="butt"/>
<line x1="1581.3" y1="584.6" x2="1581.3" y2="592.1" stroke="#0a0a0a" stroke-width="2.2" stroke-linecap="butt"/>
<line x1="1644.5" y1="584.6" x2="1644.5" y2="592.1" stroke="#0a0a0a" stroke-width="2.2" stroke-linecap="butt"/>
<text transform="translate(1320.1 479.15) rotate(-90)" font-size="16.8" font-weight="bold" text-anchor="middle">Fold Induction</text>
<text x="1503.6" y="348.8" font-size="19.9" font-weight="bold" text-anchor="middle">CCL4</text>
<text x="1455.2" y="396.8" font-size="20.2" text-anchor="middle" stroke="#0a0a0a" stroke-width="0.22">##</text>
<line x1="1518.2" y1="445.3" x2="1646.2" y2="445.3" stroke="#0a0a0a" stroke-width="2.75" stroke-linecap="butt"/>
<line x1="1518.2" y1="439.7" x2="1518.2" y2="450.9" stroke="#0a0a0a" stroke-width="2.75" stroke-linecap="round"/>
<line x1="1646.2" y1="439.7" x2="1646.2" y2="450.9" stroke="#0a0a0a" stroke-width="2.75" stroke-linecap="round"/>
<text x="1583.3" y="442.4" font-size="17.4" text-anchor="middle" stroke="#0a0a0a" stroke-width="0.22">***</text>
<line x1="1582" y1="479.9" x2="1644.8" y2="479.9" stroke="#0a0a0a" stroke-width="2.75" stroke-linecap="butt"/>
<line x1="1582" y1="474.3" x2="1582" y2="485.5" stroke="#0a0a0a" stroke-width="2.75" stroke-linecap="round"/>
<line x1="1644.8" y1="474.3" x2="1644.8" y2="485.5" stroke="#0a0a0a" stroke-width="2.75" stroke-linecap="round"/>
<text x="1614.2" y="470.3" font-size="18.8" text-anchor="middle" stroke="#0a0a0a" stroke-width="0.22">NS</text>
<rect x="1789.73" y="533.43" width="41.95" height="51.97" fill="#fff" stroke="#0a0a0a" stroke-width="2.65"/>
<rect x="1851.6" y="460.3" width="44.6" height="125.1" fill="#1c1c1c"/>
<line x1="1873.9" y1="453.9" x2="1873.9" y2="461.3" stroke="#0a0a0a" stroke-width="2.75" stroke-linecap="butt"/>
<line x1="1863.65" y1="453.9" x2="1884.15" y2="453.9" stroke="#0a0a0a" stroke-width="2.75" stroke-linecap="round"/>
<rect x="1914.8" y="465.9" width="44.6" height="119.5" fill="#1c1c1c"/>
<line x1="1937.1" y1="463.7" x2="1937.1" y2="466.9" stroke="#0a0a0a" stroke-width="2.75" stroke-linecap="butt"/>
<line x1="1926.85" y1="463.7" x2="1947.35" y2="463.7" stroke="#0a0a0a" stroke-width="2.75" stroke-linecap="round"/>
<rect x="1978" y="493.2" width="44.6" height="92.2" fill="#1c1c1c"/>
<line x1="2000.3" y1="484.7" x2="2000.3" y2="494.2" stroke="#0a0a0a" stroke-width="2.75" stroke-linecap="butt"/>
<line x1="1990.05" y1="484.7" x2="2010.55" y2="484.7" stroke="#0a0a0a" stroke-width="2.75" stroke-linecap="round"/>
<rect x="2041.2" y="527.1" width="44.6" height="58.3" fill="#1c1c1c"/>
<line x1="2063.5" y1="515.7" x2="2063.5" y2="528.1" stroke="#0a0a0a" stroke-width="2.75" stroke-linecap="butt"/>
<line x1="2053.25" y1="515.7" x2="2073.75" y2="515.7" stroke="#0a0a0a" stroke-width="2.75" stroke-linecap="round"/>
<line x1="1779.2" y1="373.18" x2="1779.2" y2="586.73" stroke="#0a0a0a" stroke-width="2.65" stroke-linecap="butt"/>
<line x1="1771.9" y1="585.4" x2="2095.4" y2="585.4" stroke="#0a0a0a" stroke-width="2.65" stroke-linecap="butt"/>
<text x="1771.4" y="590.8" font-size="15.2" font-weight="bold" text-anchor="end">0</text>
<line x1="1771.9" y1="532.67" x2="1779.2" y2="532.67" stroke="#0a0a0a" stroke-width="2.65" stroke-linecap="butt"/>
<text x="1771.4" y="538.07" font-size="15.2" font-weight="bold" text-anchor="end">1</text>
<line x1="1771.9" y1="479.95" x2="1779.2" y2="479.95" stroke="#0a0a0a" stroke-width="2.65" stroke-linecap="butt"/>
<text x="1771.4" y="485.35" font-size="15.2" font-weight="bold" text-anchor="end">2</text>
<line x1="1771.9" y1="427.23" x2="1779.2" y2="427.23" stroke="#0a0a0a" stroke-width="2.65" stroke-linecap="butt"/>
<text x="1771.4" y="432.62" font-size="15.2" font-weight="bold" text-anchor="end">3</text>
<line x1="1771.9" y1="374.5" x2="1779.2" y2="374.5" stroke="#0a0a0a" stroke-width="2.65" stroke-linecap="butt"/>
<text x="1771.4" y="379.9" font-size="15.2" font-weight="bold" text-anchor="end">4</text>
<line x1="1810.7" y1="585.4" x2="1810.7" y2="592.9" stroke="#0a0a0a" stroke-width="2.2" stroke-linecap="butt"/>
<line x1="1873.9" y1="585.4" x2="1873.9" y2="592.9" stroke="#0a0a0a" stroke-width="2.2" stroke-linecap="butt"/>
<line x1="1937.1" y1="585.4" x2="1937.1" y2="592.9" stroke="#0a0a0a" stroke-width="2.2" stroke-linecap="butt"/>
<line x1="2000.3" y1="585.4" x2="2000.3" y2="592.9" stroke="#0a0a0a" stroke-width="2.2" stroke-linecap="butt"/>
<line x1="2063.5" y1="585.4" x2="2063.5" y2="592.9" stroke="#0a0a0a" stroke-width="2.2" stroke-linecap="butt"/>
<text transform="translate(1751.2 479.95) rotate(-90)" font-size="16.8" font-weight="bold" text-anchor="middle">Fold Induction</text>
<text x="1928.7" y="349" font-size="19.9" font-weight="bold" text-anchor="middle">CCL5</text>
<line x1="1873.5" y1="379.7" x2="2064.3" y2="379.7" stroke="#0a0a0a" stroke-width="2.75" stroke-linecap="butt"/>
<line x1="1873.5" y1="374.1" x2="1873.5" y2="385.3" stroke="#0a0a0a" stroke-width="2.75" stroke-linecap="round"/>
<line x1="2064.3" y1="374.1" x2="2064.3" y2="385.3" stroke="#0a0a0a" stroke-width="2.75" stroke-linecap="round"/>
<text x="1969.6" y="373" font-size="20.2" text-anchor="middle" stroke="#0a0a0a" stroke-width="0.22">##</text>
<line x1="1873.5" y1="410.8" x2="2000.6" y2="410.8" stroke="#0a0a0a" stroke-width="2.75" stroke-linecap="butt"/>
<line x1="1873.5" y1="405.2" x2="1873.5" y2="416.4" stroke="#0a0a0a" stroke-width="2.75" stroke-linecap="round"/>
<line x1="2000.6" y1="405.2" x2="2000.6" y2="416.4" stroke="#0a0a0a" stroke-width="2.75" stroke-linecap="round"/>
<text x="1937.9" y="403.8" font-size="20.2" text-anchor="middle" stroke="#0a0a0a" stroke-width="0.22">##</text>
<line x1="1873.5" y1="439.6" x2="2064.3" y2="439.6" stroke="#0a0a0a" stroke-width="2.75" stroke-linecap="butt"/>
<line x1="1873.5" y1="434" x2="1873.5" y2="445.2" stroke="#0a0a0a" stroke-width="2.75" stroke-linecap="round"/>
<line x1="1937.1" y1="434" x2="1937.1" y2="445.2" stroke="#0a0a0a" stroke-width="2.75" stroke-linecap="round"/>
<line x1="2064.3" y1="434" x2="2064.3" y2="445.2" stroke="#0a0a0a" stroke-width="2.75" stroke-linecap="round"/>
<text x="1905.6" y="432.2" font-size="18.8" text-anchor="middle" stroke="#0a0a0a" stroke-width="0.22">NS</text>
<text x="2001.2" y="436.4" font-size="17.4" text-anchor="middle" stroke="#0a0a0a" stroke-width="0.22">**</text>
<line x1="2000.6" y1="473.3" x2="2063.4" y2="473.3" stroke="#0a0a0a" stroke-width="2.75" stroke-linecap="butt"/>
<line x1="2000.6" y1="467.7" x2="2000.6" y2="478.9" stroke="#0a0a0a" stroke-width="2.75" stroke-linecap="round"/>
<line x1="2063.4" y1="467.7" x2="2063.4" y2="478.9" stroke="#0a0a0a" stroke-width="2.75" stroke-linecap="round"/>
<text x="2032.9" y="463.9" font-size="18.8" text-anchor="middle" stroke="#0a0a0a" stroke-width="0.22">NS</text>
<text x="3.7" y="611.7" font-size="17.1" text-anchor="start" letter-spacing="0.35" stroke="#0a0a0a" stroke-width="0.22">Scratch</text>
<text x="3.7" y="634.7" font-size="16.9" text-anchor="start" stroke="#0a0a0a" stroke-width="0.22">GF109203X</text>
<text x="3.7" y="657.8" font-size="17.1" text-anchor="start" stroke="#0a0a0a" stroke-width="0.22">MPEP</text>
<text x="135.3" y="611.55" font-size="22.5" text-anchor="middle" stroke="#0a0a0a" stroke-width="0.3">-</text>
<text x="198.5" y="612.39" font-size="19.2" text-anchor="middle" stroke="#0a0a0a" stroke-width="0.3">+</text>
<text x="261.7" y="612.39" font-size="19.2" text-anchor="middle" stroke="#0a0a0a" stroke-width="0.3">+</text>
<text x="324.9" y="612.39" font-size="19.2" text-anchor="middle" stroke="#0a0a0a" stroke-width="0.3">+</text>
<text x="388.1" y="612.39" font-size="19.2" text-anchor="middle" stroke="#0a0a0a" stroke-width="0.3">+</text>
<text x="135.3" y="633.75" font-size="22.5" text-anchor="middle" stroke="#0a0a0a" stroke-width="0.3">-</text>
<text x="198.5" y="633.75" font-size="22.5" text-anchor="middle" stroke="#0a0a0a" stroke-width="0.3">-</text>
<text x="261.7" y="634.59" font-size="19.2" text-anchor="middle" stroke="#0a0a0a" stroke-width="0.3">+</text>
<text x="324.9" y="634.59" font-size="19.2" text-anchor="middle" stroke="#0a0a0a" stroke-width="0.3">+</text>
<text x="388.1" y="633.75" font-size="22.5" text-anchor="middle" stroke="#0a0a0a" stroke-width="0.3">-</text>
<text x="135.3" y="656.95" font-size="22.5" text-anchor="middle" stroke="#0a0a0a" stroke-width="0.3">-</text>
<text x="198.5" y="656.95" font-size="22.5" text-anchor="middle" stroke="#0a0a0a" stroke-width="0.3">-</text>
<text x="261.7" y="656.95" font-size="22.5" text-anchor="middle" stroke="#0a0a0a" stroke-width="0.3">-</text>
<text x="324.9" y="657.79" font-size="19.2" text-anchor="middle" stroke="#0a0a0a" stroke-width="0.3">+</text>
<text x="388.1" y="657.79" font-size="19.2" text-anchor="middle" stroke="#0a0a0a" stroke-width="0.3">+</text>
<text x="423.3" y="611.7" font-size="17.1" text-anchor="start" letter-spacing="0.35" stroke="#0a0a0a" stroke-width="0.22">Scratch</text>
<text x="423.3" y="634.7" font-size="16.9" text-anchor="start" stroke="#0a0a0a" stroke-width="0.22">GF109203X</text>
<text x="423.3" y="657.8" font-size="17.1" text-anchor="start" stroke="#0a0a0a" stroke-width="0.22">MPEP</text>
<text x="554.9" y="611.55" font-size="22.5" text-anchor="middle" stroke="#0a0a0a" stroke-width="0.3">-</text>
<text x="618.1" y="612.39" font-size="19.2" text-anchor="middle" stroke="#0a0a0a" stroke-width="0.3">+</text>
<text x="681.3" y="612.39" font-size="19.2" text-anchor="middle" stroke="#0a0a0a" stroke-width="0.3">+</text>
<text x="744.5" y="612.39" font-size="19.2" text-anchor="middle" stroke="#0a0a0a" stroke-width="0.3">+</text>
<text x="807.7" y="612.39" font-size="19.2" text-anchor="middle" stroke="#0a0a0a" stroke-width="0.3">+</text>
<text x="554.9" y="633.75" font-size="22.5" text-anchor="middle" stroke="#0a0a0a" stroke-width="0.3">-</text>
<text x="618.1" y="633.75" font-size="22.5" text-anchor="middle" stroke="#0a0a0a" stroke-width="0.3">-</text>
<text x="681.3" y="634.59" font-size="19.2" text-anchor="middle" stroke="#0a0a0a" stroke-width="0.3">+</text>
<text x="744.5" y="634.59" font-size="19.2" text-anchor="middle" stroke="#0a0a0a" stroke-width="0.3">+</text>
<text x="807.7" y="633.75" font-size="22.5" text-anchor="middle" stroke="#0a0a0a" stroke-width="0.3">-</text>
<text x="554.9" y="656.95" font-size="22.5" text-anchor="middle" stroke="#0a0a0a" stroke-width="0.3">-</text>
<text x="618.1" y="656.95" font-size="22.5" text-anchor="middle" stroke="#0a0a0a" stroke-width="0.3">-</text>
<text x="681.3" y="656.95" font-size="22.5" text-anchor="middle" stroke="#0a0a0a" stroke-width="0.3">-</text>
<text x="744.5" y="657.79" font-size="19.2" text-anchor="middle" stroke="#0a0a0a" stroke-width="0.3">+</text>
<text x="807.7" y="657.79" font-size="19.2" text-anchor="middle" stroke="#0a0a0a" stroke-width="0.3">+</text>
<text x="842.1" y="611.4" font-size="17.1" text-anchor="start" letter-spacing="0.35" stroke="#0a0a0a" stroke-width="0.22">Scratch</text>
<text x="842.1" y="634.4" font-size="16.9" text-anchor="start" stroke="#0a0a0a" stroke-width="0.22">GF109203X</text>
<text x="842.1" y="657.5" font-size="17.1" text-anchor="start" stroke="#0a0a0a" stroke-width="0.22">MPEP</text>
<text x="973.7" y="611.25" font-size="22.5" text-anchor="middle" stroke="#0a0a0a" stroke-width="0.3">-</text>
<text x="1036.9" y="612.09" font-size="19.2" text-anchor="middle" stroke="#0a0a0a" stroke-width="0.3">+</text>
<text x="1100.1" y="612.09" font-size="19.2" text-anchor="middle" stroke="#0a0a0a" stroke-width="0.3">+</text>
<text x="1163.3" y="612.09" font-size="19.2" text-anchor="middle" stroke="#0a0a0a" stroke-width="0.3">+</text>
<text x="1226.5" y="612.09" font-size="19.2" text-anchor="middle" stroke="#0a0a0a" stroke-width="0.3">+</text>
<text x="973.7" y="633.45" font-size="22.5" text-anchor="middle" stroke="#0a0a0a" stroke-width="0.3">-</text>
<text x="1036.9" y="633.45" font-size="22.5" text-anchor="middle" stroke="#0a0a0a" stroke-width="0.3">-</text>
<text x="1100.1" y="634.29" font-size="19.2" text-anchor="middle" stroke="#0a0a0a" stroke-width="0.3">+</text>
<text x="1163.3" y="634.29" font-size="19.2" text-anchor="middle" stroke="#0a0a0a" stroke-width="0.3">+</text>
<text x="1226.5" y="633.45" font-size="22.5" text-anchor="middle" stroke="#0a0a0a" stroke-width="0.3">-</text>
<text x="973.7" y="656.65" font-size="22.5" text-anchor="middle" stroke="#0a0a0a" stroke-width="0.3">-</text>
<text x="1036.9" y="656.65" font-size="22.5" text-anchor="middle" stroke="#0a0a0a" stroke-width="0.3">-</text>
<text x="1100.1" y="656.65" font-size="22.5" text-anchor="middle" stroke="#0a0a0a" stroke-width="0.3">-</text>
<text x="1163.3" y="657.49" font-size="19.2" text-anchor="middle" stroke="#0a0a0a" stroke-width="0.3">+</text>
<text x="1226.5" y="657.49" font-size="19.2" text-anchor="middle" stroke="#0a0a0a" stroke-width="0.3">+</text>
<text x="1260.1" y="611.7" font-size="17.1" text-anchor="start" letter-spacing="0.35" stroke="#0a0a0a" stroke-width="0.22">Scratch</text>
<text x="1260.1" y="634.7" font-size="16.9" text-anchor="start" stroke="#0a0a0a" stroke-width="0.22">GF109203X</text>
<text x="1260.1" y="657.8" font-size="17.1" text-anchor="start" stroke="#0a0a0a" stroke-width="0.22">MPEP</text>
<text x="1391.7" y="611.55" font-size="22.5" text-anchor="middle" stroke="#0a0a0a" stroke-width="0.3">-</text>
<text x="1454.9" y="612.39" font-size="19.2" text-anchor="middle" stroke="#0a0a0a" stroke-width="0.3">+</text>
<text x="1518.1" y="612.39" font-size="19.2" text-anchor="middle" stroke="#0a0a0a" stroke-width="0.3">+</text>
<text x="1581.3" y="612.39" font-size="19.2" text-anchor="middle" stroke="#0a0a0a" stroke-width="0.3">+</text>
<text x="1644.5" y="612.39" font-size="19.2" text-anchor="middle" stroke="#0a0a0a" stroke-width="0.3">+</text>
<text x="1391.7" y="633.75" font-size="22.5" text-anchor="middle" stroke="#0a0a0a" stroke-width="0.3">-</text>
<text x="1454.9" y="633.75" font-size="22.5" text-anchor="middle" stroke="#0a0a0a" stroke-width="0.3">-</text>
<text x="1518.1" y="634.59" font-size="19.2" text-anchor="middle" stroke="#0a0a0a" stroke-width="0.3">+</text>
<text x="1581.3" y="634.59" font-size="19.2" text-anchor="middle" stroke="#0a0a0a" stroke-width="0.3">+</text>
<text x="1644.5" y="633.75" font-size="22.5" text-anchor="middle" stroke="#0a0a0a" stroke-width="0.3">-</text>
<text x="1391.7" y="656.95" font-size="22.5" text-anchor="middle" stroke="#0a0a0a" stroke-width="0.3">-</text>
<text x="1454.9" y="656.95" font-size="22.5" text-anchor="middle" stroke="#0a0a0a" stroke-width="0.3">-</text>
<text x="1518.1" y="656.95" font-size="22.5" text-anchor="middle" stroke="#0a0a0a" stroke-width="0.3">-</text>
<text x="1581.3" y="657.79" font-size="19.2" text-anchor="middle" stroke="#0a0a0a" stroke-width="0.3">+</text>
<text x="1644.5" y="657.79" font-size="19.2" text-anchor="middle" stroke="#0a0a0a" stroke-width="0.3">+</text>
<text x="1679.1" y="612.3" font-size="17.1" text-anchor="start" letter-spacing="0.35" stroke="#0a0a0a" stroke-width="0.22">Scratch</text>
<text x="1679.1" y="635.3" font-size="16.9" text-anchor="start" stroke="#0a0a0a" stroke-width="0.22">GF109203X</text>
<text x="1679.1" y="658.4" font-size="17.1" text-anchor="start" stroke="#0a0a0a" stroke-width="0.22">MPEP</text>
<text x="1810.7" y="612.15" font-size="22.5" text-anchor="middle" stroke="#0a0a0a" stroke-width="0.3">-</text>
<text x="1873.9" y="612.99" font-size="19.2" text-anchor="middle" stroke="#0a0a0a" stroke-width="0.3">+</text>
<text x="1937.1" y="612.99" font-size="19.2" text-anchor="middle" stroke="#0a0a0a" stroke-width="0.3">+</text>
<text x="2000.3" y="612.99" font-size="19.2" text-anchor="middle" stroke="#0a0a0a" stroke-width="0.3">+</text>
<text x="2063.5" y="612.99" font-size="19.2" text-anchor="middle" stroke="#0a0a0a" stroke-width="0.3">+</text>
<text x="1810.7" y="634.35" font-size="22.5" text-anchor="middle" stroke="#0a0a0a" stroke-width="0.3">-</text>
<text x="1873.9" y="634.35" font-size="22.5" text-anchor="middle" stroke="#0a0a0a" stroke-width="0.3">-</text>
<text x="1937.1" y="635.19" font-size="19.2" text-anchor="middle" stroke="#0a0a0a" stroke-width="0.3">+</text>
<text x="2000.3" y="635.19" font-size="19.2" text-anchor="middle" stroke="#0a0a0a" stroke-width="0.3">+</text>
<text x="2063.5" y="634.35" font-size="22.5" text-anchor="middle" stroke="#0a0a0a" stroke-width="0.3">-</text>
<text x="1810.7" y="657.55" font-size="22.5" text-anchor="middle" stroke="#0a0a0a" stroke-width="0.3">-</text>
<text x="1873.9" y="657.55" font-size="22.5" text-anchor="middle" stroke="#0a0a0a" stroke-width="0.3">-</text>
<text x="1937.1" y="657.55" font-size="22.5" text-anchor="middle" stroke="#0a0a0a" stroke-width="0.3">-</text>
<text x="2000.3" y="658.39" font-size="19.2" text-anchor="middle" stroke="#0a0a0a" stroke-width="0.3">+</text>
<text x="2063.5" y="658.39" font-size="19.2" text-anchor="middle" stroke="#0a0a0a" stroke-width="0.3">+</text>
<rect x="176.3" y="667" width="645.2" height="91" fill="url(#g1)"/>
<rect x="178.5" y="761.3" width="643" height="88" fill="url(#g2)"/>
<rect x="176.3" y="667" width="645.2" height="91" fill="url(#gt)"/>
<rect x="176.3" y="667" width="645.2" height="91" filter="url(#nz)"/>
<rect x="178.5" y="761.3" width="643" height="88" filter="url(#nz)"/>
<g clip-path="url(#c1)">
<ellipse cx="256" cy="702" rx="68" ry="28" fill="#3a3a3a" opacity="0.5" filter="url(#b3)"/>
<ellipse cx="380" cy="709" rx="68" ry="34" fill="#3a3a3a" opacity="0.5" filter="url(#b3)"/>
<path d="M203.5 700.5 C204 692 209 688.5 216 687.5 C228 685.5 240 685 251 685 C268 685.5 284 687.5 295 690 C303 692 307.5 695 307 701 C306.5 711 302 717 294 717.8 C282 718.5 268 715 254 714 C240 713.5 228 715.5 216 714.5 C208 713.5 203 709 203.5 700.5Z" fill="#000" filter="url(#b1)"/>
<path d="M366 724 L404 724 C401 736 397 747 387 750 C378 748 371 736 366 724Z" fill="#1a1a1a" opacity="0.85" filter="url(#b1)"/>
<ellipse cx="386.5" cy="744.5" rx="5.5" ry="4.5" fill="#000" filter="url(#b1)"/>
<path d="M324.5 704 C325 696 330 692.5 338 691 C352 688 368 686 382 686 C396 686.5 412 689.5 422 693 C429 695.5 432.5 699 432 704.5 C431 714 426 719.5 417 723 C406 727.5 394 729.5 381 729.5 C366 729.5 352 727 341 722.5 C331 718.5 324 713 324.5 704Z" fill="#000" filter="url(#b1)"/>
<ellipse cx="492" cy="708" rx="52" ry="8" fill="#2c2c2c" opacity="0.5" filter="url(#b2)"/>
<ellipse cx="613" cy="714" rx="42" ry="12" fill="#2c2c2c" opacity="0.42" filter="url(#b3)"/>
<ellipse cx="736" cy="716" rx="42" ry="7" fill="#161616" opacity="0.66" filter="url(#b2)"/>
<ellipse cx="742" cy="724" rx="50" ry="15" fill="#2c2c2c" opacity="0.36" filter="url(#b3)"/>
</g>
<g clip-path="url(#c2)">
<ellipse cx="258" cy="804.5" rx="43" ry="8.5" fill="#1a1a1a" opacity="0.84" filter="url(#b2)"/>
<ellipse cx="376" cy="803" rx="45" ry="8.5" fill="#161616" opacity="0.88" filter="url(#b2)"/>
<ellipse cx="501" cy="808.5" rx="50" ry="8" fill="#1c1c1c" opacity="0.8" filter="url(#b2)"/>
<ellipse cx="618" cy="813" rx="42" ry="9.5" fill="#1c1c1c" opacity="0.8" filter="url(#b2)"/>
<ellipse cx="737" cy="809" rx="51" ry="8.5" fill="#0c0c0c" opacity="0.94" filter="url(#b2)"/>
</g>
<text x="44.8" y="722.2" font-size="30.6" text-anchor="start" stroke="#0a0a0a" stroke-width="0.22">p-PKC</text>
<text x="44.3" y="816.3" font-size="30.6" text-anchor="start" stroke="#0a0a0a" stroke-width="0.22">GAPDH</text>
<text x="44.6" y="887" font-size="22.5" text-anchor="start" stroke="#0a0a0a" stroke-width="0.22">Scratch</text>
<text x="42.6" y="924" font-size="22.5" text-anchor="start" stroke="#0a0a0a" stroke-width="0.22">GF109203X</text>
<text x="42.6" y="960.6" font-size="22.5" text-anchor="start" stroke="#0a0a0a" stroke-width="0.22">MPEP</text>
<text x="255.2" y="887.79" font-size="33" text-anchor="middle" stroke="#0a0a0a" stroke-width="0.2">-</text>
<text x="379.9" y="886.36" font-size="30.5" text-anchor="middle" stroke="#0a0a0a" stroke-width="0.2">+</text>
<text x="499.4" y="886.36" font-size="30.5" text-anchor="middle" stroke="#0a0a0a" stroke-width="0.2">+</text>
<text x="618.9" y="886.36" font-size="30.5" text-anchor="middle" stroke="#0a0a0a" stroke-width="0.2">+</text>
<text x="738.6" y="886.36" font-size="30.5" text-anchor="middle" stroke="#0a0a0a" stroke-width="0.2">+</text>
<text x="255.2" y="924.39" font-size="33" text-anchor="middle" stroke="#0a0a0a" stroke-width="0.2">-</text>
<text x="379.9" y="923.56" font-size="30.5" text-anchor="middle" stroke="#0a0a0a" stroke-width="0.2">+</text>
<text x="499.4" y="923.56" font-size="30.5" text-anchor="middle" stroke="#0a0a0a" stroke-width="0.2">+</text>
<text x="618.9" y="923.56" font-size="30.5" text-anchor="middle" stroke="#0a0a0a" stroke-width="0.2">+</text>
<text x="734" y="924.39" font-size="33" text-anchor="middle" stroke="#0a0a0a" stroke-width="0.2">-</text>
<text x="255.2" y="961.19" font-size="33" text-anchor="middle" stroke="#0a0a0a" stroke-width="0.2">-</text>
<text x="374.8" y="961.19" font-size="33" text-anchor="middle" stroke="#0a0a0a" stroke-width="0.2">-</text>
<text x="495.2" y="961.19" font-size="33" text-anchor="middle" stroke="#0a0a0a" stroke-width="0.2">-</text>
<text x="618.9" y="959.66" font-size="30.5" text-anchor="middle" stroke="#0a0a0a" stroke-width="0.2">+</text>
<text x="738.6" y="959.66" font-size="30.5" text-anchor="middle" stroke="#0a0a0a" stroke-width="0.2">+</text>
<rect x="945.73" y="784.93" width="41.95" height="104.87" fill="#fff" stroke="#0a0a0a" stroke-width="2.65"/>
<rect x="1007.6" y="734.1" width="44.6" height="155.7" fill="#1c1c1c"/>
<line x1="1029.9" y1="724.1" x2="1029.9" y2="735.1" stroke="#0a0a0a" stroke-width="2.75" stroke-linecap="butt"/>
<line x1="1019.65" y1="724.1" x2="1040.15" y2="724.1" stroke="#0a0a0a" stroke-width="2.75" stroke-linecap="round"/>
<rect x="1070.8" y="874.2" width="44.6" height="15.6" fill="#1c1c1c"/>
<line x1="1093.1" y1="871.2" x2="1093.1" y2="875.2" stroke="#0a0a0a" stroke-width="2.75" stroke-linecap="butt"/>
<line x1="1082.85" y1="871.2" x2="1103.35" y2="871.2" stroke="#0a0a0a" stroke-width="2.75" stroke-linecap="round"/>
<rect x="1134" y="877.6" width="44.6" height="12.2" fill="#1c1c1c"/>
<line x1="1156.3" y1="874.2" x2="1156.3" y2="878.6" stroke="#0a0a0a" stroke-width="2.75" stroke-linecap="butt"/>
<line x1="1146.05" y1="874.2" x2="1166.55" y2="874.2" stroke="#0a0a0a" stroke-width="2.75" stroke-linecap="round"/>
<rect x="1197.2" y="868.8" width="44.6" height="21" fill="#1c1c1c"/>
<line x1="1219.5" y1="863.8" x2="1219.5" y2="869.8" stroke="#0a0a0a" stroke-width="2.75" stroke-linecap="butt"/>
<line x1="1209.25" y1="863.8" x2="1229.75" y2="863.8" stroke="#0a0a0a" stroke-width="2.75" stroke-linecap="round"/>
<line x1="935.8" y1="678.07" x2="935.8" y2="891.12" stroke="#0a0a0a" stroke-width="2.65" stroke-linecap="butt"/>
<line x1="928.5" y1="889.8" x2="1252.2" y2="889.8" stroke="#0a0a0a" stroke-width="2.65" stroke-linecap="butt"/>
<text x="928" y="895.2" font-size="15.2" font-weight="bold" text-anchor="end">0</text>
<line x1="928.5" y1="837.2" x2="935.8" y2="837.2" stroke="#0a0a0a" stroke-width="2.65" stroke-linecap="butt"/>
<text x="928" y="842.6" font-size="15.2" font-weight="bold" text-anchor="end">50</text>
<line x1="928.5" y1="784.6" x2="935.8" y2="784.6" stroke="#0a0a0a" stroke-width="2.65" stroke-linecap="butt"/>
<text x="928" y="790" font-size="15.2" font-weight="bold" text-anchor="end">100</text>
<line x1="928.5" y1="732" x2="935.8" y2="732" stroke="#0a0a0a" stroke-width="2.65" stroke-linecap="butt"/>
<text x="928" y="737.4" font-size="15.2" font-weight="bold" text-anchor="end">150</text>
<line x1="928.5" y1="679.4" x2="935.8" y2="679.4" stroke="#0a0a0a" stroke-width="2.65" stroke-linecap="butt"/>
<text x="928" y="684.8" font-size="15.2" font-weight="bold" text-anchor="end">200</text>
<line x1="966.7" y1="889.8" x2="966.7" y2="897.3" stroke="#0a0a0a" stroke-width="2.2" stroke-linecap="butt"/>
<line x1="1029.9" y1="889.8" x2="1029.9" y2="897.3" stroke="#0a0a0a" stroke-width="2.2" stroke-linecap="butt"/>
<line x1="1093.1" y1="889.8" x2="1093.1" y2="897.3" stroke="#0a0a0a" stroke-width="2.2" stroke-linecap="butt"/>
<line x1="1156.3" y1="889.8" x2="1156.3" y2="897.3" stroke="#0a0a0a" stroke-width="2.2" stroke-linecap="butt"/>
<line x1="1219.5" y1="889.8" x2="1219.5" y2="897.3" stroke="#0a0a0a" stroke-width="2.2" stroke-linecap="butt"/>
<text transform="translate(889.2 784.5) rotate(-90)" font-size="17.55" font-weight="bold" text-anchor="middle">p-PKC/GAPDH (100%)</text>
<line x1="968.3" y1="690" x2="1030.8" y2="690" stroke="#0a0a0a" stroke-width="2.75" stroke-linecap="butt"/>
<line x1="968.3" y1="684.4" x2="968.3" y2="695.6" stroke="#0a0a0a" stroke-width="2.75" stroke-linecap="round"/>
<line x1="1030.8" y1="684.4" x2="1030.8" y2="695.6" stroke="#0a0a0a" stroke-width="2.75" stroke-linecap="round"/>
<text x="999.3" y="687.9" font-size="17.4" text-anchor="middle" stroke="#0a0a0a" stroke-width="0.22">*</text>
<text x="1031.8" y="717.1" font-size="20.2" text-anchor="middle" stroke="#0a0a0a" stroke-width="0.22">###</text>
<line x1="1094.6" y1="820.9" x2="1220.2" y2="820.9" stroke="#0a0a0a" stroke-width="2.75" stroke-linecap="butt"/>
<line x1="1094.6" y1="815.3" x2="1094.6" y2="826.5" stroke="#0a0a0a" stroke-width="2.75" stroke-linecap="round"/>
<line x1="1220.2" y1="815.3" x2="1220.2" y2="826.5" stroke="#0a0a0a" stroke-width="2.75" stroke-linecap="round"/>
<text x="1152.3" y="813.3" font-size="18.8" text-anchor="middle" stroke="#0a0a0a" stroke-width="0.22">NS</text>
<line x1="1155.7" y1="851.6" x2="1219.8" y2="851.6" stroke="#0a0a0a" stroke-width="2.75" stroke-linecap="butt"/>
<line x1="1155.7" y1="846" x2="1155.7" y2="857.2" stroke="#0a0a0a" stroke-width="2.75" stroke-linecap="round"/>
<line x1="1219.8" y1="846" x2="1219.8" y2="857.2" stroke="#0a0a0a" stroke-width="2.75" stroke-linecap="round"/>
<text x="1189.4" y="844.5" font-size="18.8" text-anchor="middle" stroke="#0a0a0a" stroke-width="0.22">NS</text>
<text x="835.9" y="916.8" font-size="17.1" text-anchor="start" letter-spacing="0.35" stroke="#0a0a0a" stroke-width="0.22">Scratch</text>
<text x="835.9" y="939.8" font-size="16.9" text-anchor="start" stroke="#0a0a0a" stroke-width="0.22">GF109203X</text>
<text x="835.9" y="963.2" font-size="17.1" text-anchor="start" stroke="#0a0a0a" stroke-width="0.22">MPEP</text>
<text x="966.7" y="916.85" font-size="22.5" text-anchor="middle" stroke="#0a0a0a" stroke-width="0.3">-</text>
<text x="1029.9" y="917.69" font-size="19.2" text-anchor="middle" stroke="#0a0a0a" stroke-width="0.3">+</text>
<text x="1093.1" y="917.69" font-size="19.2" text-anchor="middle" stroke="#0a0a0a" stroke-width="0.3">+</text>
<text x="1156.3" y="917.69" font-size="19.2" text-anchor="middle" stroke="#0a0a0a" stroke-width="0.3">+</text>
<text x="1219.5" y="917.69" font-size="19.2" text-anchor="middle" stroke="#0a0a0a" stroke-width="0.3">+</text>
<text x="966.7" y="939.25" font-size="22.5" text-anchor="middle" stroke="#0a0a0a" stroke-width="0.3">-</text>
<text x="1029.9" y="939.25" font-size="22.5" text-anchor="middle" stroke="#0a0a0a" stroke-width="0.3">-</text>
<text x="1093.1" y="940.09" font-size="19.2" text-anchor="middle" stroke="#0a0a0a" stroke-width="0.3">+</text>
<text x="1156.3" y="940.09" font-size="19.2" text-anchor="middle" stroke="#0a0a0a" stroke-width="0.3">+</text>
<text x="1219.5" y="939.25" font-size="22.5" text-anchor="middle" stroke="#0a0a0a" stroke-width="0.3">-</text>
<text x="966.7" y="962.05" font-size="22.5" text-anchor="middle" stroke="#0a0a0a" stroke-width="0.3">-</text>
<text x="1029.9" y="962.05" font-size="22.5" text-anchor="middle" stroke="#0a0a0a" stroke-width="0.3">-</text>
<text x="1093.1" y="962.05" font-size="22.5" text-anchor="middle" stroke="#0a0a0a" stroke-width="0.3">-</text>
<text x="1156.3" y="962.89" font-size="19.2" text-anchor="middle" stroke="#0a0a0a" stroke-width="0.3">+</text>
<text x="1219.5" y="962.89" font-size="19.2" text-anchor="middle" stroke="#0a0a0a" stroke-width="0.3">+</text>
</svg></body></html>
